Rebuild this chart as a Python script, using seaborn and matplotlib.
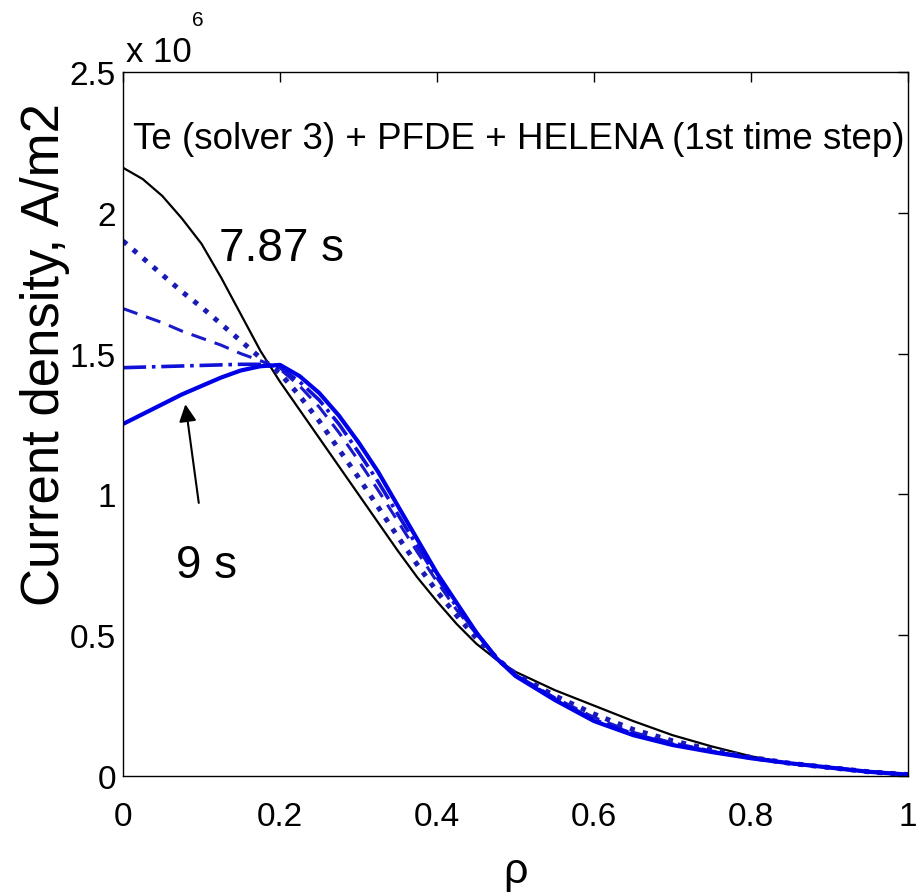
import numpy as np
import pandas as pd
import matplotlib
matplotlib.use("Agg")
import matplotlib.pyplot as plt
import seaborn as sns

# ---- data (current density in units of 1e6 A/m2) ----
rho = [0.0, 0.025, 0.05, 0.075, 0.10, 0.125, 0.15, 0.175, 0.20, 0.225,
       0.25, 0.275, 0.30, 0.325, 0.35, 0.375, 0.40, 0.425, 0.45, 0.475,
       0.50, 0.55, 0.60, 0.65, 0.70, 0.75, 0.80, 0.85, 0.90, 0.95, 1.00]
j_787 = [2.16, 2.12, 2.06, 1.98, 1.89, 1.77, 1.64, 1.51, 1.40, 1.30,
         1.20, 1.10, 1.00, 0.90, 0.80, 0.705, 0.62, 0.54, 0.47, 0.415,
         0.37, 0.305, 0.25, 0.195, 0.145, 0.105, 0.07, 0.045, 0.03, 0.015, 0.005]
j_dot = [1.90, 1.84, 1.78, 1.72, 1.665, 1.605, 1.545, 1.485, 1.43, 1.35,
         1.26, 1.16, 1.06, 0.955, 0.85, 0.75, 0.655, 0.57, 0.49, 0.42,
         0.362, 0.285, 0.22, 0.165, 0.125, 0.093, 0.066, 0.045, 0.03, 0.015, 0.005]
j_dash = [1.66, 1.635, 1.61, 1.58, 1.555, 1.53, 1.50, 1.475, 1.445, 1.385,
          1.31, 1.22, 1.12, 1.015, 0.905, 0.795, 0.69, 0.59, 0.505, 0.425,
          0.36, 0.278, 0.208, 0.155, 0.118, 0.089, 0.064, 0.045, 0.03, 0.015, 0.005]
j_dashdot = [1.45, 1.452, 1.454, 1.456, 1.458, 1.46, 1.462, 1.462, 1.45, 1.40,
             1.335, 1.25, 1.15, 1.045, 0.93, 0.815, 0.705, 0.60, 0.51, 0.423,
             0.358, 0.274, 0.20, 0.15, 0.113, 0.087, 0.064, 0.045, 0.03, 0.015, 0.005]
j_9 = [1.25, 1.285, 1.32, 1.355, 1.385, 1.415, 1.44, 1.455, 1.46, 1.42,
       1.36, 1.28, 1.185, 1.08, 0.96, 0.84, 0.72, 0.615, 0.51, 0.42,
       0.355, 0.27, 0.195, 0.145, 0.11, 0.085, 0.063, 0.045, 0.03, 0.015, 0.005]

xticks = [0, 0.2, 0.4, 0.6, 0.8, 1]
xticklabels = ["0", "0.2", "0.4", "0.6", "0.8", "1"]
yticks = [0, 0.5, 1, 1.5, 2, 2.5]
yticklabels = ["0", "0.5", "1", "1.5", "2", "2.5"]
scale = 1e6

sns.set_style("white")
plt.rcParams["font.family"] = ["Liberation Sans", "DejaVu Sans"]
plt.rcParams["text.color"] = "black"
plt.rcParams["axes.labelcolor"] = "black"

fig = plt.figure(figsize=(9.18, 8.95), dpi=100)
ax = fig.add_axes([123 / 918, 1 - 777 / 895, (908 - 123) / 918, (777 - 73) / 895])

series = [
    (j_787, "black", "-", 1.6),
    (j_dot, "#1a1ab4", ":", 3.6),
    (j_dash, "#1a1ac8", (0, (5, 3)), 2.2),
    (j_dashdot, "#1010d8", "-.", 2.6),
    (j_9, "#0000e6", "-", 3.0),
]
for vals, col, ls, lw in series:
    df = pd.DataFrame({"rho": rho, "j": np.array(vals) * scale})
    sns.lineplot(data=df, x="rho", y="j", ax=ax, color=col, linestyle=ls,
                 linewidth=lw, sort=False, estimator=None)

ax.set_xlim(0, 1)
ax.set_ylim(0, 2.5 * scale)
ax.set_xticks(xticks)
ax.set_xticklabels(xticklabels)
ax.set_yticks([v * scale for v in yticks])
ax.set_yticklabels(yticklabels)
ax.tick_params(direction="in", length=7, width=1, top=True, right=True,
               labelsize=24, colors="black")
ax.tick_params(axis="x", pad=18)
ax.tick_params(axis="y", pad=5)
for s in ax.spines.values():
    s.set_color("black")
    s.set_linewidth(1.0)

ax.set_xlabel("ρ", fontsize=31, va="bottom", color="black")
ax.xaxis.set_label_coords(0.5, -0.163)
ax.set_ylabel("Current density, A/m2", fontsize=38, color="black")
ax.yaxis.set_label_coords(-0.068, 0.6)

ax.text(0.504, 0.905, "Te (solver 3) + PFDE + HELENA (1st time step)",
        transform=ax.transAxes, ha="center", va="center", fontsize=26.5,
        color="black")
ax.text(0.122, 0.75, "7.87 s", transform=ax.transAxes, ha="left",
        va="center", fontsize=33, color="black")
ax.text(0.067, 0.30, "9 s", transform=ax.transAxes, ha="left",
        va="center", fontsize=33, color="black")

fig.text(126 / 918, 1 - 52 / 895, "x 10", ha="left", va="center", fontsize=25,
         color="black")
fig.text(192 / 918, 1 - 20 / 895, "6", ha="left", va="center", fontsize=15,
         color="black")

ax.annotate("", xy=(0.079, 1.33 * scale), xytext=(0.097, 0.96 * scale),
            arrowprops=dict(arrowstyle="-|>", color="black", lw=1.5,
                            mutation_scale=26))

fig.savefig("out.png", dpi=100)
